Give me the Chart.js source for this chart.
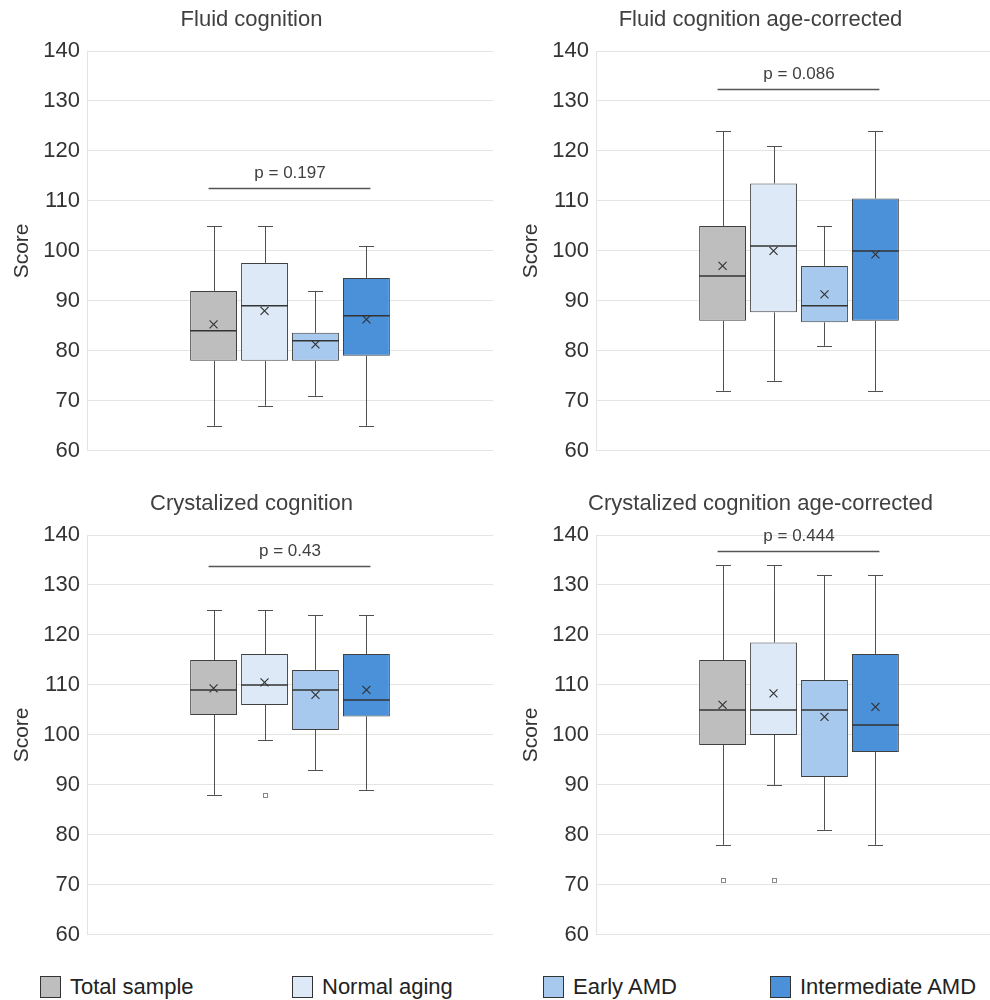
<!DOCTYPE html>
<html>
<head>
<meta charset="utf-8">
<script src="https://cdn.jsdelivr.net/npm/chart.js@4"></script>
<style>
  html, body { margin: 0; padding: 0; background: #fff; overflow: hidden; width: 990px; height: 1000px; }
  .panel { position: absolute; }
  .legend-item { position: absolute; top: 976px; height: 22px; font: 22px "Liberation Sans", Arial, sans-serif; color: #222; line-height: 22px; white-space: nowrap; }
  .legend-item span.sw { position: absolute; left: 0; top: 0; width: 21px; height: 22px; box-sizing: border-box; border: 1px solid #333; }
  .legend-item span.tx { position: absolute; left: 30px; top: 0; }
</style>
</head>
<body>
<div class="panel" style="left:0;top:0"><canvas id="c1" width="500" height="471"></canvas></div>
<div class="panel" style="left:509px;top:0"><canvas id="c2" width="500" height="471"></canvas></div>
<div class="panel" style="left:0;top:484px"><canvas id="c3" width="500" height="471"></canvas></div>
<div class="panel" style="left:509px;top:484px"><canvas id="c4" width="500" height="471"></canvas></div>
<div id="legend"></div>
<script>
const groups = ["Total sample", "Normal aging", "Early AMD", "Intermediate AMD"];

// Fluid cognition
const fluidMin = [65, 69, 71, 65];
const fluidQ1 = [78, 78, 78, 79];
const fluidMedian = [84, 89, 82, 87];
const fluidQ3 = [92, 97.6, 83.6, 94.6];
const fluidMax = [105, 105, 92, 101];
const fluidMean = [85.3, 88, 81.3, 86.3];
const fluidOutliers = [[], [], [], []];

// Fluid cognition age-corrected
const fluidAgeMin = [72, 74, 81, 72];
const fluidAgeQ1 = [86, 87.7, 85.7, 86];
const fluidAgeMedian = [95, 101, 89, 100];
const fluidAgeQ3 = [105, 113.5, 97, 110.5];
const fluidAgeMax = [124, 121, 105, 124];
const fluidAgeMean = [97, 100, 91.3, 99.3];
const fluidAgeOutliers = [[], [], [], []];

// Crystalized cognition
const crysMin = [88, 99, 93, 89];
const crysQ1 = [104, 106, 101, 103.7];
const crysMedian = [109, 110, 109, 107];
const crysQ3 = [115, 116.2, 113, 116.2];
const crysMax = [125, 125, 124, 124];
const crysMean = [109.3, 110.5, 108, 109];
const crysOutliers = [[], [88], [], []];

// Crystalized cognition age-corrected
const crysAgeMin = [78, 90, 81, 78];
const crysAgeQ1 = [98, 100, 91.6, 96.6];
const crysAgeMedian = [105, 105, 105, 102];
const crysAgeQ3 = [115, 118.5, 111, 116.2];
const crysAgeMax = [134, 134, 132, 132];
const crysAgeMean = [106, 108.3, 103.6, 105.6];
const crysAgeOutliers = [[71], [71], [], []];

const pValues = ["0.197", "0.086", "0.43", "0.444"];
const yTicks = { min: 60, max: 140, step: 10 };

const fills = ["#bebebe", "#dde9f7", "#a7c9ee", "#4a91da"];

Chart.defaults.font.family = '"Liberation Sans", Arial, sans-serif';

const panels = [
  { id: "c1", title: "Fluid cognition", min: fluidMin, q1: fluidQ1, med: fluidMedian, q3: fluidQ3, max: fluidMax, mean: fluidMean, out: fluidOutliers, p: pValues[0], bracket: 112.5 },
  { id: "c2", title: "Fluid cognition age-corrected", min: fluidAgeMin, q1: fluidAgeQ1, med: fluidAgeMedian, q3: fluidAgeQ3, max: fluidAgeMax, mean: fluidAgeMean, out: fluidAgeOutliers, p: pValues[1], bracket: 132.4 },
  { id: "c3", title: "Crystalized cognition", min: crysMin, q1: crysQ1, med: crysMedian, q3: crysQ3, max: crysMax, mean: crysMean, out: crysOutliers, p: pValues[2], bracket: 133.8 },
  { id: "c4", title: "Crystalized cognition age-corrected", min: crysAgeMin, q1: crysAgeQ1, med: crysAgeMedian, q3: crysAgeQ3, max: crysAgeMax, mean: crysAgeMean, out: crysAgeOutliers, p: pValues[3], bracket: 136.8 }
];

// whiskers behind the boxes, median / mean / outliers / p bracket on top
const boxPlugin = {
  id: "boxWhiskers",
  beforeDatasetsDraw(chart) {
    const ctx = chart.ctx;
    const y = chart.scales.y;
    ctx.save();
    ctx.strokeStyle = "#505050";
    ctx.lineWidth = 1;
    chart.data.datasets.forEach((ds, i) => {
      const bar = chart.getDatasetMeta(i).data[0];
      const x = Math.round(bar.x) + 0.5;
      const s = ds.stats;
      const cap = 7.5;
      ctx.beginPath();
      ctx.moveTo(x, y.getPixelForValue(s.q3));
      ctx.lineTo(x, y.getPixelForValue(s.max));
      ctx.moveTo(x - cap, Math.round(y.getPixelForValue(s.max)) + 0.5);
      ctx.lineTo(x + cap, Math.round(y.getPixelForValue(s.max)) + 0.5);
      ctx.moveTo(x, y.getPixelForValue(s.q1));
      ctx.lineTo(x, y.getPixelForValue(s.min));
      ctx.moveTo(x - cap, Math.round(y.getPixelForValue(s.min)) + 0.5);
      ctx.lineTo(x + cap, Math.round(y.getPixelForValue(s.min)) + 0.5);
      ctx.stroke();
    });
    ctx.restore();
  },
  afterDatasetsDraw(chart, args, opts) {
    const ctx = chart.ctx;
    const y = chart.scales.y;
    ctx.save();
    chart.data.datasets.forEach((ds, i) => {
      const bar = chart.getDatasetMeta(i).data[0];
      const s = ds.stats;
      const half = bar.width / 2;
      // median
      const my = y.getPixelForValue(s.median);
      ctx.strokeStyle = "#333";
      ctx.lineWidth = 1.5;
      ctx.beginPath();
      ctx.moveTo(bar.x - half, my);
      ctx.lineTo(bar.x + half, my);
      ctx.stroke();
      // mean cross
      const mx = bar.x, mY = y.getPixelForValue(s.mean), r = 4;
      ctx.lineWidth = 1.2;
      ctx.strokeStyle = "#333";
      ctx.beginPath();
      ctx.moveTo(mx - r, mY - r); ctx.lineTo(mx + r, mY + r);
      ctx.moveTo(mx + r, mY - r); ctx.lineTo(mx - r, mY + r);
      ctx.stroke();
      // outliers
      ctx.lineWidth = 1;
      ctx.strokeStyle = "#888";
      ctx.fillStyle = "#fff";
      s.outliers.forEach(v => {
        const oy = Math.round(y.getPixelForValue(v));
        const ox = Math.round(bar.x);
        ctx.fillRect(ox - 2, oy - 2, 4, 4);
        ctx.strokeRect(ox - 1.5, oy - 1.5, 4, 4);
      });
    });
    // p value bracket
    const first = chart.getDatasetMeta(0).data[0];
    const last = chart.getDatasetMeta(chart.data.datasets.length - 1).data[0];
    const by = Math.round(y.getPixelForValue(opts.bracket)) + 0.5;
    ctx.strokeStyle = "#555";
    ctx.lineWidth = 1.5;
    ctx.beginPath();
    ctx.moveTo(first.x - 5, by);
    ctx.lineTo(last.x + 4, by);
    ctx.stroke();
    ctx.fillStyle = "#404040";
    ctx.font = '17px "Liberation Sans", Arial, sans-serif';
    ctx.textAlign = "center";
    ctx.textBaseline = "alphabetic";
    ctx.fillText("p = " + opts.p, (first.x + last.x) / 2, by - 11);
    ctx.restore();
  }
};

panels.forEach(p => {
  new Chart(document.getElementById(p.id), {
    type: "bar",
    data: {
      labels: [""],
      datasets: groups.map((g, i) => ({
        label: g,
        data: [[p.q1[i], p.q3[i]]],
        backgroundColor: fills[i],
        borderColor: "#404040",
        borderWidth: 1,
        borderSkipped: false,
        categoryPercentage: 0.502,
        barPercentage: 0.92,
        stats: { min: p.min[i], q1: p.q1[i], median: p.med[i], q3: p.q3[i], max: p.max[i], mean: p.mean[i], outliers: p.out[i] }
      }))
    },
    options: {
      responsive: false,
      animation: false,
      layout: { padding: { left: 10, right: 7, top: 0, bottom: 15 } },
      plugins: {
        legend: { display: false },
        tooltip: { enabled: false },
        title: {
          display: true,
          text: p.title,
          color: "#404040",
          font: { size: 22, weight: "normal" },
          padding: { top: 7, bottom: 17.6 }
        },
        boxWhiskers: { p: p.p, bracket: p.bracket }
      },
      scales: {
        x: { display: false },
        y: {
          min: yTicks.min,
          max: yTicks.max,
          ticks: { stepSize: yTicks.step, color: "#333", font: { size: 22 }, padding: 7 },
          grid: { color: "#e4e4e4", drawTicks: false },
          border: { color: "#e4e4e4" },
          title: { display: true, text: "Score", color: "#333", font: { size: 21 }, padding: 0 },
          afterFit(axis) { axis.width = 77; }
        }
      }
    },
    plugins: [boxPlugin]
  });
});

// legend under the four panels
const legendLeft = [40, 292, 543, 770];
const legendDiv = document.getElementById("legend");
groups.forEach((g, i) => {
  const item = document.createElement("div");
  item.className = "legend-item";
  item.style.left = legendLeft[i] + "px";
  item.innerHTML = '<span class="sw" style="background:' + fills[i] + '"></span><span class="tx">' + g + "</span>";
  legendDiv.appendChild(item);
});
</script>
</body>
</html>
